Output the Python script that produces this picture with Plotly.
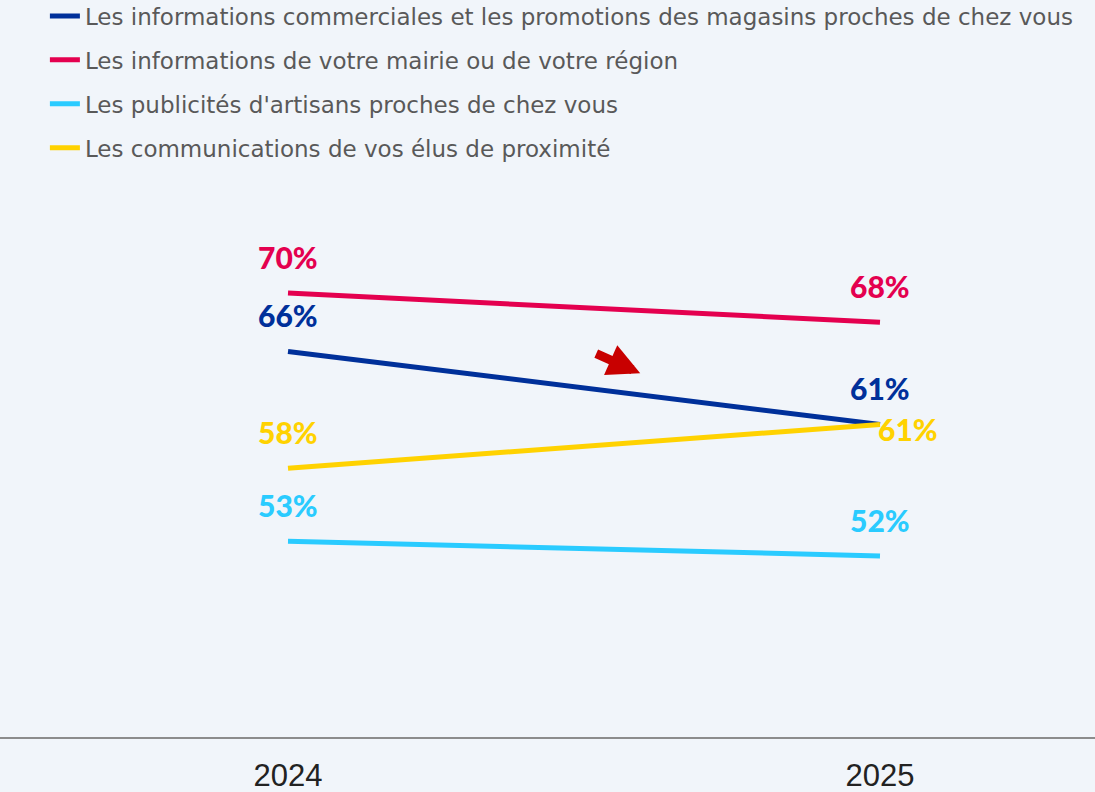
import plotly.graph_objects as go

years = ["2024", "2025"]
series_names = [
    "Les informations commerciales et les promotions des magasins proches de chez vous",
    "Les informations de votre mairie ou de votre région",
    "Les publicités d'artisans proches de chez vous",
    "Les communications de vos élus de proximité",
]
commerciales = [66, 61]
mairie = [70, 68]
artisans = [53, 52]
elus = [58, 61]
colors = ["#00309A", "#E4004F", "#2ACBFF", "#FFD200"]

series = [commerciales, mairie, artisans, elus]
xpos = [0, 1]

fig = go.Figure()
for i, (name, vals, col) in enumerate(zip(series_names, series, colors)):
    fig.add_trace(go.Scatter(
        x=xpos, y=vals, mode="lines", name=name,
        line=dict(color=col, width=5),
        legendgroup=f"g{i}",
    ))

font_lbl = "Lato"
for i, (vals, col) in enumerate(zip(series, colors)):
    for j, v in enumerate(vals):
        xs, ys = 0, 36
        if i == 3 and j == 1:
            xs, ys = 28, -5
        fig.add_annotation(
            x=xpos[j], y=v, text=f"{v}%", showarrow=False,
            xshift=xs, yshift=ys,
            font=dict(family=font_lbl, size=30, color=col, weight=900),
        )

# red trend arrow
fig.add_annotation(
    x=0.595, y=64.5, xref="x", yref="y",
    ax=-47, ay=-21, axref="pixel", ayref="pixel",
    showarrow=True, arrowhead=2, arrowsize=0.72, arrowwidth=9,
    arrowcolor="#C80000", text=" ",
)

fig.update_layout(
    width=1095, height=792,
    paper_bgcolor="#F1F5FA", plot_bgcolor="#F1F5FA",
    margin=dict(l=0, r=0, t=147, b=55, autoexpand=False),
    showlegend=True,
    legend=dict(
        x=0.041, y=1 - 82 / 792, xref="container", yref="container",
        xanchor="left", yanchor="middle",
        font=dict(family="DejaVu Sans", size=23, color="#595959"),
        tracegroupgap=11, bgcolor="rgba(0,0,0,0)",
        itemwidth=30,
    ),
    xaxis=dict(
        range=[-0.4865, 1.3632], tickvals=xpos, ticktext=years,
        showgrid=False, zeroline=False, showline=True,
        linecolor="#8C8C8C", linewidth=2,
        ticks="outside", ticklen=10, tickcolor="rgba(0,0,0,0)",
        tickfont=dict(family="Liberation Sans", size=31, color="#222222"),
    ),
    yaxis=dict(
        range=[39.6, 80], visible=False, showgrid=False, zeroline=False,
    ),
)

fig.write_html("out.html", config={"displayModeBar": False},
               post_script="document.body.style.margin='0';")
